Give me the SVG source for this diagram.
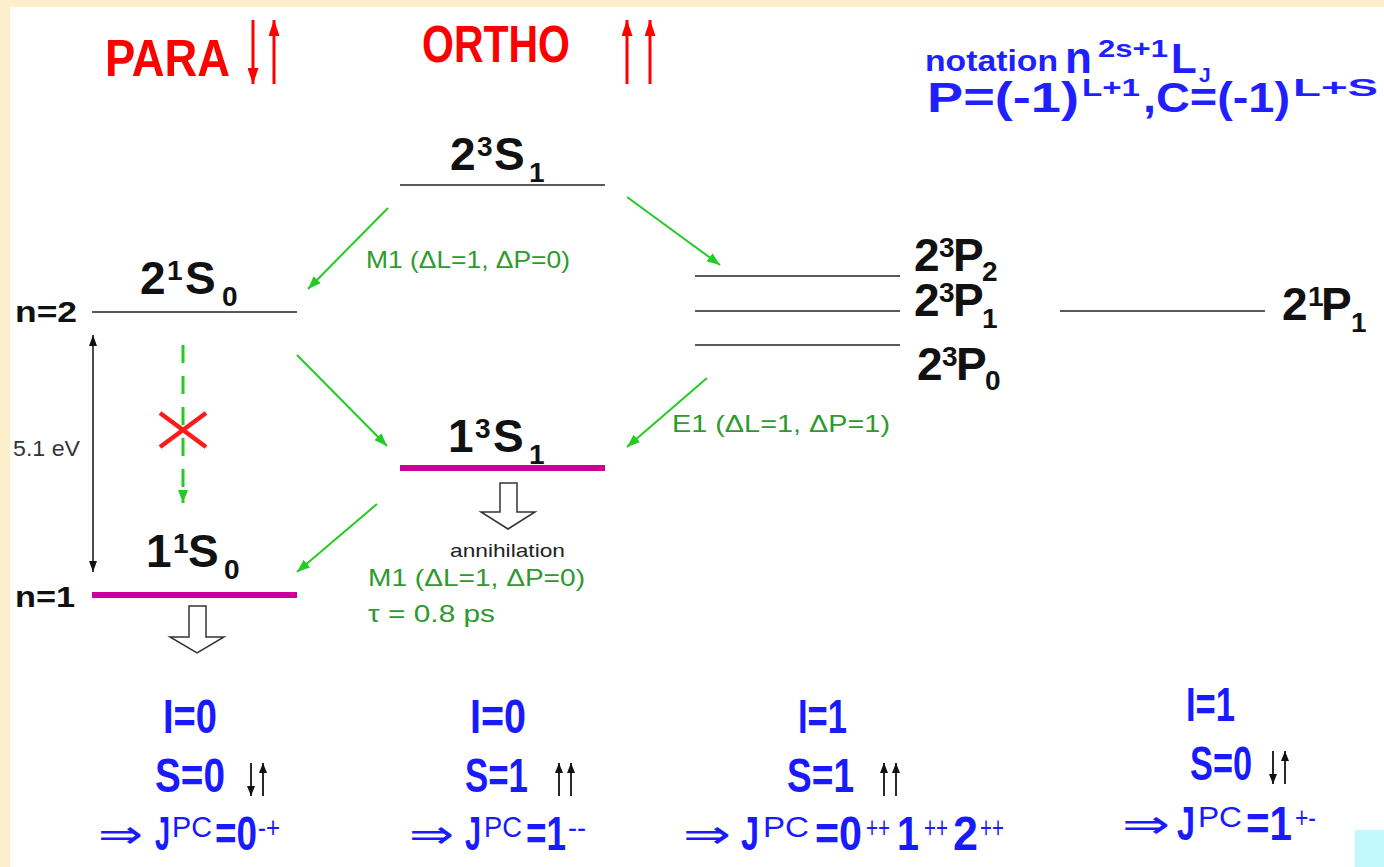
<svg xmlns="http://www.w3.org/2000/svg" width="1384" height="867" viewBox="0 0 1384 867">
<style>
.lvl{stroke:#222;stroke-width:1.6}
.mag{stroke:#cc0099;stroke-width:6}
.g{stroke:#22cc22;stroke-width:2;fill:none;marker-end:url(#ga)}
.lab{font-family:"Liberation Sans",Arial,sans-serif;font-weight:bold;fill:#111}
.big{font-size:46px}
.sm{font-size:28px}
.red{font-family:"Liberation Sans",Arial,sans-serif;font-weight:bold;fill:#ff0000;font-size:51px}
.nb{font-family:"Liberation Sans",Arial,sans-serif;font-weight:bold;fill:#1f1fff}
.gt{font-family:"Liberation Sans Narrow","Liberation Sans",Arial,sans-serif;fill:#2e9a2e;font-size:24px}
.bt{font-family:"Liberation Sans Narrow","Liberation Sans",Arial,sans-serif;fill:#1a1aff;font-size:48px;font-weight:bold}
.bs{font-size:29px;font-weight:normal}
.imp{font-family:"DejaVu Sans",sans-serif;font-weight:normal}
.spin{stroke:#111;stroke-width:1.8;fill:none}
.hollow{fill:#fff;stroke:#333;stroke-width:1.5}
</style>
<defs>
<marker id="ga" markerUnits="userSpaceOnUse" viewBox="0 0 13 10" refX="13" refY="5" markerWidth="13" markerHeight="10" orient="auto"><path d="M0,0 L13,5 L0,10 z" fill="#22cc22"/></marker>
<marker id="ra" markerUnits="userSpaceOnUse" viewBox="0 0 16 11" refX="16" refY="5.5" markerWidth="16" markerHeight="11" orient="auto"><path d="M0,0 L16,5.5 L0,11 z" fill="#ff0000"/></marker>
<marker id="ka" markerUnits="userSpaceOnUse" viewBox="0 0 11 8" refX="11" refY="4" markerWidth="11" markerHeight="8" orient="auto-start-reverse"><path d="M0,0 L11,4 L0,8 z" fill="#111"/></marker>
<marker id="sa" markerUnits="userSpaceOnUse" viewBox="0 0 10 8" refX="10" refY="4" markerWidth="10" markerHeight="8" orient="auto"><path d="M0,0 L10,4 L0,8 z" fill="#111"/></marker>
</defs>

<rect x="0" y="0" width="1384" height="867" fill="#fdefcc"/>
<rect x="10" y="7" width="1374" height="860" fill="#ffffff"/>
<rect x="1355" y="830" width="29" height="37" fill="#c2f9fc"/>

<g id="titles">
<text class="red" x="105" y="76" textLength="125" lengthAdjust="spacingAndGlyphs">PARA</text>
<line x1="253" y1="20" x2="253" y2="84" stroke="#ff0000" stroke-width="3" marker-end="url(#ra)"/>
<line x1="274" y1="84" x2="274" y2="20" stroke="#ff0000" stroke-width="3" marker-end="url(#ra)"/>
<text class="red" x="422" y="62" textLength="148" lengthAdjust="spacingAndGlyphs">ORTHO</text>
<line x1="627" y1="84" x2="627" y2="20" stroke="#ff0000" stroke-width="3" marker-end="url(#ra)"/>
<line x1="650" y1="84" x2="650" y2="20" stroke="#ff0000" stroke-width="3" marker-end="url(#ra)"/>
</g>

<g id="notation">
<text class="nb"><tspan x="925" y="71" font-size="30" textLength="133" lengthAdjust="spacingAndGlyphs">notation</tspan><tspan x="1065" y="73" font-size="44">n</tspan><tspan x="1098" y="57" font-size="24" textLength="70" lengthAdjust="spacingAndGlyphs">2s+1</tspan><tspan x="1171" y="73" font-size="42">L</tspan><tspan x="1199" y="82" font-size="21">J</tspan><tspan x="927" y="112" font-size="42" textLength="152" lengthAdjust="spacingAndGlyphs">P=(-1)</tspan><tspan x="1082" y="96" font-size="24" textLength="58" lengthAdjust="spacingAndGlyphs">L+1</tspan><tspan x="1143" y="112" font-size="42" textLength="147" lengthAdjust="spacingAndGlyphs">,C=(-1)</tspan><tspan x="1293" y="96" font-size="24" textLength="85" lengthAdjust="spacingAndGlyphs">L+S</tspan></text>
</g>

<g id="n-labels">
<text class="lab" x="15" y="322" font-size="30" textLength="62" lengthAdjust="spacingAndGlyphs">n=2</text>
<text class="lab" x="15" y="607" font-size="30" textLength="60" lengthAdjust="spacingAndGlyphs">n=1</text>
<text x="13" y="456" font-family="Liberation Sans Narrow,Liberation Sans,sans-serif" font-size="22" fill="#333" textLength="67" lengthAdjust="spacingAndGlyphs">5.1 eV</text>
</g>

<g id="level-2-3S1">
<line class="lvl" x1="400" y1="185" x2="605" y2="185"/>
<text class="lab"><tspan class="big" x="450" y="170">2</tspan><tspan class="sm" x="477" y="156">3</tspan><tspan class="big" x="494" y="170">S</tspan><tspan class="sm" x="529" y="182">1</tspan></text>
</g>

<g id="level-2-1S0">
<line class="lvl" x1="92" y1="312" x2="297" y2="312"/>
<text class="lab"><tspan class="big" x="140" y="294">2</tspan><tspan class="sm" x="167" y="280">1</tspan><tspan class="big" x="185" y="294">S</tspan><tspan class="sm" x="222" y="306">0</tspan></text>
</g>

<g id="level-1-3S1">
<line class="mag" x1="400" y1="468" x2="605" y2="468"/>
<text class="lab"><tspan class="big" x="448" y="452">1</tspan><tspan class="sm" x="475" y="438">3</tspan><tspan class="big" x="493" y="452">S</tspan><tspan class="sm" x="529" y="464">1</tspan></text>
</g>

<g id="level-1-1S0">
<line class="mag" x1="92" y1="595" x2="297" y2="595"/>
<text class="lab"><tspan class="big" x="146" y="567">1</tspan><tspan class="sm" x="173" y="553">1</tspan><tspan class="big" x="188" y="567">S</tspan><tspan class="sm" x="224" y="579">0</tspan></text>
</g>

<g id="level-2-3P2">
<line class="lvl" x1="695" y1="276" x2="900" y2="276"/>
<text class="lab"><tspan class="big" x="914" y="271">2</tspan><tspan class="sm" x="939" y="257">3</tspan><tspan class="big" x="953" y="271">P</tspan><tspan class="sm" x="982" y="281">2</tspan></text>
</g>
<g id="level-2-3P1">
<line class="lvl" x1="695" y1="311" x2="900" y2="311"/>
<text class="lab"><tspan class="big" x="914" y="316">2</tspan><tspan class="sm" x="939" y="302">3</tspan><tspan class="big" x="953" y="316">P</tspan><tspan class="sm" x="982" y="328">1</tspan></text>
</g>
<g id="level-2-3P0">
<line class="lvl" x1="695" y1="345" x2="900" y2="345"/>
<text class="lab"><tspan class="big" x="917" y="380">2</tspan><tspan class="sm" x="942" y="366">3</tspan><tspan class="big" x="956" y="380">P</tspan><tspan class="sm" x="985" y="390">0</tspan></text>
</g>
<g id="level-2-1P1">
<line class="lvl" x1="1060" y1="311" x2="1265" y2="311"/>
<text class="lab"><tspan class="big" x="1282" y="320">2</tspan><tspan class="sm" x="1308" y="306">1</tspan><tspan class="big" x="1321" y="320">P</tspan><tspan class="sm" x="1351" y="332">1</tspan></text>
</g>

<g id="connectors">
<line class="g" x1="388" y1="208" x2="308" y2="289"/>
<line class="g" x1="627" y1="197" x2="720" y2="265"/>
<line class="g" x1="297" y1="355" x2="387" y2="446"/>
<line class="g" x1="707" y1="378" x2="627" y2="447"/>
<line class="g" x1="377" y1="504" x2="297" y2="572"/>
<line x1="183" y1="345" x2="183" y2="503" stroke="#22cc22" stroke-width="3" stroke-dasharray="18,13" marker-end="url(#ga)"/>
<line x1="93" y1="335" x2="93" y2="572" stroke="#111" stroke-width="1.5" marker-start="url(#ka)" marker-end="url(#ka)"/>
<path d="M160,413 L206,447 M160,447 L206,413" stroke="#ff1a1a" stroke-width="4.5" fill="none"/>
<polygon class="hollow" points="500,483 517,483 517,512 535,512 508,529 481,512 500,512"/>
<polygon class="hollow" points="189,606 206,606 206,637 224,637 197,653 170,637 189,637"/>
</g>

<g id="transition-labels">
<text class="gt" x="366" y="268" textLength="204" lengthAdjust="spacingAndGlyphs">M1 (ΔL=1, ΔP=0)</text>
<text class="gt" x="672" y="432" textLength="218" lengthAdjust="spacingAndGlyphs">E1 (ΔL=1, ΔP=1)</text>
<text x="450" y="557" font-family="Liberation Sans Narrow,Liberation Sans,sans-serif" font-size="19" fill="#222" textLength="115" lengthAdjust="spacingAndGlyphs">annihilation</text>
<text class="gt" x="368" y="586" textLength="217" lengthAdjust="spacingAndGlyphs">M1 (ΔL=1, ΔP=0)</text>
<text class="gt" x="368" y="622" textLength="127" lengthAdjust="spacingAndGlyphs">τ = 0.8 ps</text>
</g>

<g id="quantum-numbers">
<text class="bt" x="163" y="733" textLength="54" lengthAdjust="spacingAndGlyphs">I=0</text>
<text class="bt" x="155" y="792" textLength="70" lengthAdjust="spacingAndGlyphs">S=0</text>
<line class="spin" x1="251" y1="763" x2="251" y2="796" marker-end="url(#sa)"/>
<line class="spin" x1="263" y1="796" x2="263" y2="763" marker-end="url(#sa)"/>
<text class="bt"><tspan class="imp" x="98" y="848" font-size="40" textLength="45" lengthAdjust="spacingAndGlyphs">⇒</tspan><tspan x="155" y="850" textLength="15" lengthAdjust="spacingAndGlyphs">J</tspan><tspan class="bs" x="172" y="837" textLength="40" lengthAdjust="spacingAndGlyphs">PC</tspan><tspan x="215" y="850" textLength="42" lengthAdjust="spacingAndGlyphs">=0</tspan><tspan class="bs" x="258" y="838" textLength="22" lengthAdjust="spacingAndGlyphs">-+</tspan></text>

<text class="bt" x="470" y="733" textLength="56" lengthAdjust="spacingAndGlyphs">I=0</text>
<text class="bt" x="465" y="792" textLength="63" lengthAdjust="spacingAndGlyphs">S=1</text>
<line class="spin" x1="559" y1="796" x2="559" y2="763" marker-end="url(#sa)"/>
<line class="spin" x1="571" y1="796" x2="571" y2="763" marker-end="url(#sa)"/>
<text class="bt"><tspan class="imp" x="409" y="848" font-size="40" textLength="45" lengthAdjust="spacingAndGlyphs">⇒</tspan><tspan x="465" y="850" textLength="16" lengthAdjust="spacingAndGlyphs">J</tspan><tspan class="bs" x="484" y="837" textLength="38" lengthAdjust="spacingAndGlyphs">PC</tspan><tspan x="526" y="850" textLength="40" lengthAdjust="spacingAndGlyphs">=1</tspan><tspan class="bs" x="568" y="838" textLength="18" lengthAdjust="spacingAndGlyphs">--</tspan></text>

<text class="bt" x="798" y="733" textLength="49" lengthAdjust="spacingAndGlyphs">I=1</text>
<text class="bt" x="787" y="792" textLength="67" lengthAdjust="spacingAndGlyphs">S=1</text>
<line class="spin" x1="884" y1="796" x2="884" y2="763" marker-end="url(#sa)"/>
<line class="spin" x1="896" y1="796" x2="896" y2="763" marker-end="url(#sa)"/>
<text class="bt"><tspan class="imp" x="683" y="848" font-size="40" textLength="48" lengthAdjust="spacingAndGlyphs">⇒</tspan><tspan x="741" y="850" textLength="18" lengthAdjust="spacingAndGlyphs">J</tspan><tspan class="bs" x="763" y="837" textLength="46" lengthAdjust="spacingAndGlyphs">PC</tspan><tspan x="815" y="850" textLength="47" lengthAdjust="spacingAndGlyphs">=0</tspan><tspan class="bs" x="866" y="838" textLength="24" lengthAdjust="spacingAndGlyphs">++</tspan><tspan x="897" y="850" textLength="22" lengthAdjust="spacingAndGlyphs">1</tspan><tspan class="bs" x="924" y="838" textLength="24" lengthAdjust="spacingAndGlyphs">++</tspan><tspan x="953" y="850" textLength="25" lengthAdjust="spacingAndGlyphs">2</tspan><tspan class="bs" x="980" y="838" textLength="24" lengthAdjust="spacingAndGlyphs">++</tspan></text>

<text class="bt" x="1186" y="721" textLength="49" lengthAdjust="spacingAndGlyphs">I=1</text>
<text class="bt" x="1190" y="780" textLength="62" lengthAdjust="spacingAndGlyphs">S=0</text>
<line class="spin" x1="1273" y1="751" x2="1273" y2="784" marker-end="url(#sa)"/>
<line class="spin" x1="1285" y1="784" x2="1285" y2="751" marker-end="url(#sa)"/>
<text class="bt"><tspan class="imp" x="1122" y="838" font-size="40" textLength="48" lengthAdjust="spacingAndGlyphs">⇒</tspan><tspan x="1177" y="840" textLength="18" lengthAdjust="spacingAndGlyphs">J</tspan><tspan class="bs" x="1198" y="827" textLength="44" lengthAdjust="spacingAndGlyphs">PC</tspan><tspan x="1246" y="840" textLength="46" lengthAdjust="spacingAndGlyphs">=1</tspan><tspan class="bs" x="1295" y="828" textLength="21" lengthAdjust="spacingAndGlyphs">+-</tspan></text>
</g>
</svg>
